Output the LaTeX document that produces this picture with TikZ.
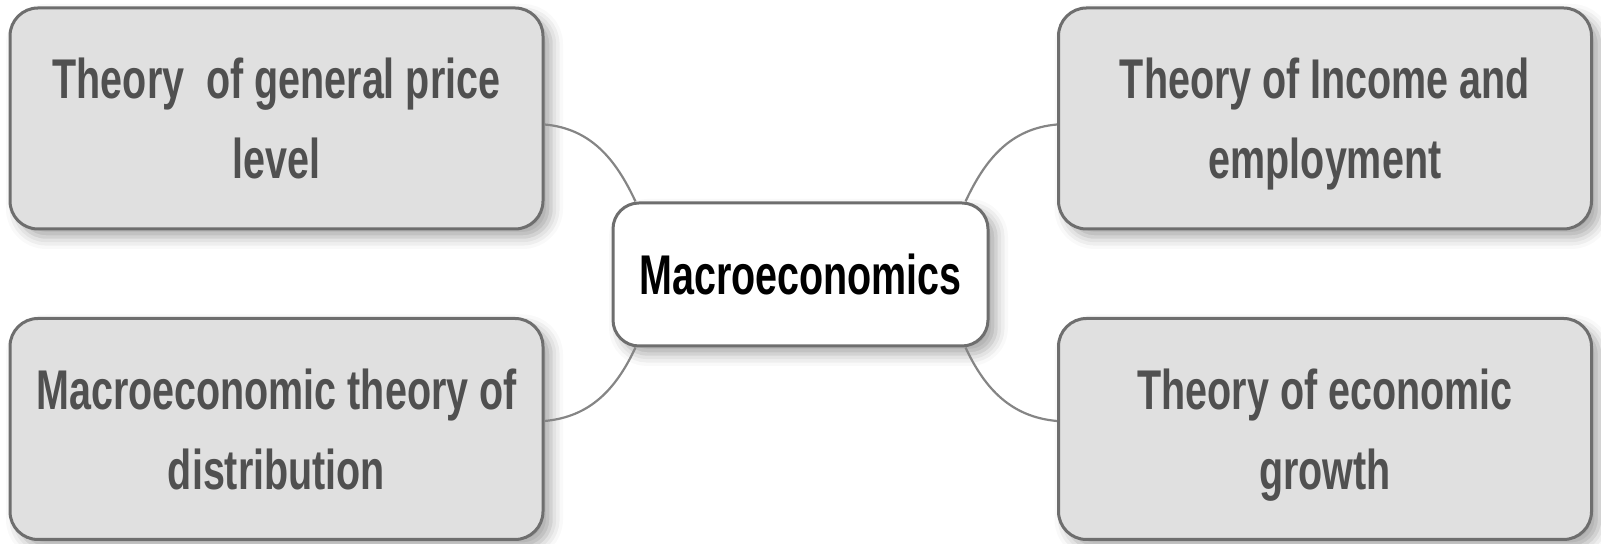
\documentclass[tikz,border=0pt]{standalone}
\usepackage{fontspec}
\usepackage{tikz}
\usetikzlibrary{shadows.blur,calc}
\newfontfamily\mapfont[FakeStretch=0.705]{Liberation Sans}
\definecolor{boxfill}{HTML}{E0E0E0}
\definecolor{boxline}{HTML}{6E6E6E}
\definecolor{boxtext}{HTML}{505050}
\definecolor{linkline}{HTML}{858585}

\begin{document}
\begin{tikzpicture}[x=0.5pt,y=0.5pt,
  bubble/.style={draw=boxline, line width=1.5pt, align=center,
    font=\mapfont\bfseries\fontsize{28}{40}\selectfont,
    blur shadow={shadow xshift=4pt, shadow yshift=-4pt, shadow blur radius=6pt, shadow opacity=35}},
  topic/.style={bubble, fill=boxfill, text=boxtext, rounded corners=14pt,
    minimum width=266.5pt, minimum height=110.5pt, text depth=-8pt},
  core/.style={bubble, fill=white, text=black, rounded corners=13pt,
    minimum width=187.5pt, minimum height=71.5pt},
  link/.style={draw=linkline, line width=1.1pt}]
\useasboundingbox (0,0) rectangle (1601,544);
\node[core] (mc) at (800.5,269.5) {Macroeconomics};
\node[topic] (price) at (276.5,425.5) {Theory\ \ of general price\\level};
\node[topic] (dist) at (276.5,115) {Macroeconomic theory of\\distribution};
\node[topic] (income) at (1325,425.5) {Theory of Income and\\employment};
\node[topic] (growth) at (1325,115) {Theory of economic\\growth};
\coordinate (mcnw) at ($(mc.north west)+(24,0)$);
\coordinate (mcne) at ($(mc.north east)+(-24,0)$);
\coordinate (mcsw) at ($(mc.south west)+(24,0)$);
\coordinate (mcse) at ($(mc.south east)+(-24,0)$);
\draw[link] ([yshift=-3pt]price.east) to[out=-5,in=115] (mcnw);
\draw[link] ([yshift=4pt]dist.east) to[out=5,in=-115] (mcsw);
\draw[link] ([yshift=-3pt]income.west) to[out=185,in=65] (mcne);
\draw[link] ([yshift=4pt]growth.west) to[out=175,in=-65] (mcse);
\end{tikzpicture}
\end{document}
